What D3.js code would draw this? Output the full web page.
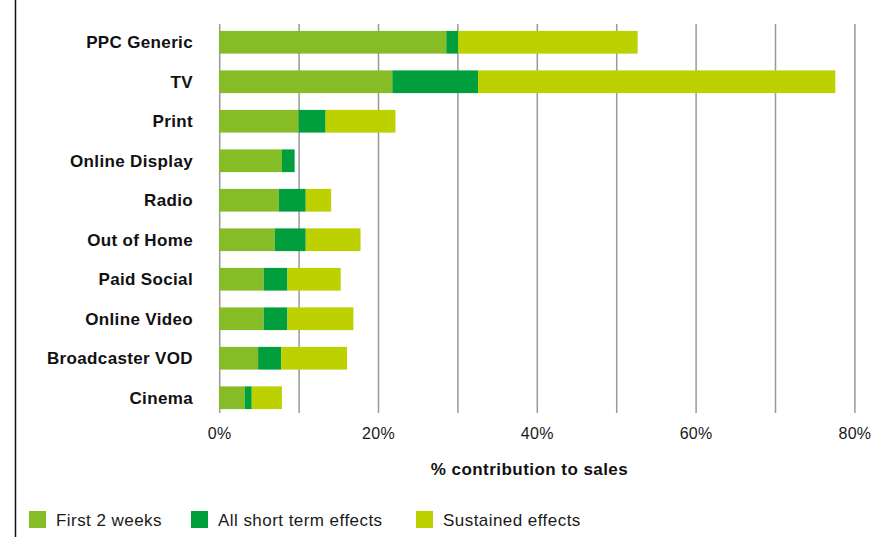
<!DOCTYPE html>
<html>
<head>
<meta charset="utf-8">
<script src="https://cdn.jsdelivr.net/npm/d3@7"></script>
<style>
  html, body { margin: 0; padding: 0; background: #fff; }
  svg { display: block; font-family: "Liberation Sans", Arial, sans-serif; }
</style>
</head>
<body>
<svg id="chart" width="896" height="537"></svg>
<script>
// Media channels, top to bottom
const channels = ["PPC Generic", "TV", "Print", "Online Display", "Radio",
  "Out of Home", "Paid Social", "Online Video", "Broadcaster VOD", "Cinema"];

// % contribution to sales, per effect window
const firstTwoWeeks = [28.6, 21.8, 10.0, 7.9, 7.5, 7.0, 5.6, 5.6, 4.9, 3.2];
const shortTermRest = [1.5, 10.8, 3.4, 1.6, 3.4, 3.9, 3.0, 3.0, 2.9, 0.9];
const sustained     = [22.6, 45.0, 8.8, 0.0, 3.2, 6.9, 6.7, 8.3, 8.3, 3.8];

const seriesNames = ["First 2 weeks", "All short term effects", "Sustained effects"];
const seriesColors = ["#86bc25", "#009e3d", "#bdd000"];
const tickValues = [0, 10, 20, 30, 40, 50, 60, 70, 80];

const rows = channels.map((c, i) => ({
  channel: c,
  "First 2 weeks": firstTwoWeeks[i],
  "All short term effects": shortTermRest[i],
  "Sustained effects": sustained[i]
}));

const svg = d3.select("#chart");

const x = d3.scaleLinear().domain([0, 80]).range([219.2, 854.4]);
const y = d3.scaleBand().domain(channels).range([23, 417])
  .paddingInner(0.425).paddingOuter(0.2);

// left frame rule
svg.append("line")
  .attr("x1", 15.5).attr("x2", 15.5).attr("y1", 0).attr("y2", 537)
  .attr("stroke", "#111").attr("stroke-width", 1.5);

// x axis with full-height gridlines
const gridTop = 24, gridBottom = 413;
const xAxis = svg.append("g")
  .attr("transform", `translate(0,${gridBottom})`)
  .call(d3.axisBottom(x)
    .tickValues(tickValues)
    .tickSizeInner(-(gridBottom - gridTop))
    .tickSizeOuter(0)
    .tickPadding(0)
    .tickFormat(d => d % 20 === 0 ? d + "%" : ""));
xAxis.select(".domain").remove();
xAxis.selectAll(".tick line").attr("stroke", "#999").attr("stroke-width", 1.5);
xAxis.selectAll(".tick text")
  .attr("y", 26)
  .attr("dy", 0)
  .attr("fill", "#1a1a1a")
  .style("font-size", "16px")
  .style("letter-spacing", "0.3px");

// stacked bars
const stack = d3.stack().keys(seriesNames);
const layers = stack(rows);
const color = d3.scaleOrdinal().domain(seriesNames).range(seriesColors);

svg.append("g").selectAll("g")
  .data(layers)
  .join("g")
  .attr("fill", d => color(d.key))
  .selectAll("rect")
  .data(d => d)
  .join("rect")
  .attr("x", d => x(d[0]))
  .attr("y", d => y(d.data.channel))
  .attr("width", d => Math.max(0, x(d[1]) - x(d[0])))
  .attr("height", y.bandwidth());

// channel labels
svg.append("g").selectAll("text")
  .data(channels)
  .join("text")
  .attr("x", 193)
  .attr("y", d => y(d) + y.bandwidth() / 2)
  .attr("dy", "0.36em")
  .attr("text-anchor", "end")
  .attr("font-weight", "bold")
  .attr("font-size", 17)
  .style("letter-spacing", "0.35px")
  .attr("fill", "#111")
  .text(d => d);

// axis title
svg.append("text")
  .attr("x", 529.5)
  .attr("y", 475)
  .attr("text-anchor", "middle")
  .attr("font-weight", "bold")
  .attr("font-size", 17)
  .style("letter-spacing", "0.45px")
  .attr("fill", "#111")
  .text("% contribution to sales");

// legend
const legendX = [29, 191, 416];
const legend = svg.append("g").selectAll("g")
  .data(seriesNames)
  .join("g")
  .attr("transform", (d, i) => `translate(${legendX[i]},511)`);
legend.append("rect")
  .attr("width", 17).attr("height", 17)
  .attr("fill", d => color(d));
legend.append("text")
  .attr("x", 27).attr("y", 15)
  .attr("font-size", 17)
  .style("letter-spacing", "0.45px")
  .attr("fill", "#1a1a1a")
  .text(d => d);
</script>
</body>
</html>
